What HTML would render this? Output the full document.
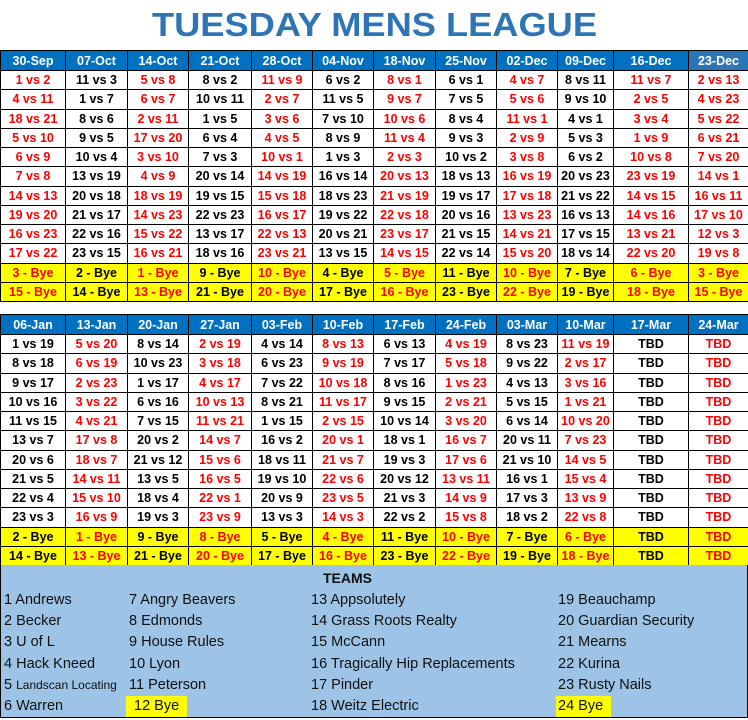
<!DOCTYPE html>
<html><head><meta charset="utf-8"><style>
body{margin:0;width:748px;height:720px;background:#fff;position:relative;overflow:hidden;font-family:"Liberation Sans",Arial,sans-serif}
table{position:absolute;left:0;width:748px;border-collapse:collapse;table-layout:fixed}
td{border:1px solid #000;text-align:center;font-weight:bold;font-size:12.5px;padding:0;height:18.25px;line-height:16px;white-space:nowrap;overflow:hidden}
tr.h td{background:#0070c0;color:#fff;height:19px;border-color:#000}
tr.h td.l{background:#2e75b6}
tr.y td{background:#ffff00}
td.r{color:#f00}
td.k{color:#000}
.w{background:#fff!important}
#teams{position:absolute;left:0;top:565px;width:746px;height:152px;background:#9dc3e6;border:1px solid #000;border-top:none}
#teams div{position:absolute;font-size:14.5px;color:#111;white-space:nowrap}
</style></head><body>
<svg style="position:absolute;left:0;top:0" width="748" height="48"><text x="152" y="36" textLength="445" lengthAdjust="spacingAndGlyphs" font-family="Liberation Sans" font-weight="bold" font-size="33" fill="#2e75b6">TUESDAY MENS LEAGUE</text></svg>
<table style="top:50px">
<colgroup><col style="width:65px"><col style="width:62px"><col style="width:61px"><col style="width:63px"><col style="width:61px"><col style="width:61px"><col style="width:62px"><col style="width:61px"><col style="width:61px"><col style="width:56px"><col style="width:75px"><col style="width:60px"></colgroup>
<tr class="h"><td>30-Sep</td><td>07-Oct</td><td>14-Oct</td><td>21-Oct</td><td>28-Oct</td><td>04-Nov</td><td>18-Nov</td><td>25-Nov</td><td>02-Dec</td><td>09-Dec</td><td>16-Dec</td><td class="l">23-Dec</td></tr>
<tr><td class="r">1 vs 2</td><td>11 vs 3</td><td class="r">5 vs 8</td><td>8 vs 2</td><td class="r">11 vs 9</td><td>6 vs 2</td><td class="r">8 vs 1</td><td>6 vs 1</td><td class="r">4 vs 7</td><td>8 vs 11</td><td class="r">11 vs 7</td><td class="r">2 vs 13</td></tr>
<tr><td class="r">4 vs 11</td><td>1 vs 7</td><td class="r">6 vs 7</td><td>10 vs 11</td><td class="r">2 vs 7</td><td>11 vs 5</td><td class="r">9 vs 7</td><td>7 vs 5</td><td class="r">5 vs 6</td><td>9 vs 10</td><td class="r">2 vs 5</td><td class="r">4 vs 23</td></tr>
<tr><td class="r">18 vs 21</td><td>8 vs 6</td><td class="r">2 vs 11</td><td>1 vs 5</td><td class="r">3 vs 6</td><td>7 vs 10</td><td class="r">10 vs 6</td><td>8 vs 4</td><td class="r">11 vs 1</td><td>4 vs 1</td><td class="r">3 vs 4</td><td class="r">5 vs 22</td></tr>
<tr><td class="r">5 vs 10</td><td>9 vs 5</td><td class="r">17 vs 20</td><td>6 vs 4</td><td class="r">4 vs 5</td><td>8 vs 9</td><td class="r">11 vs 4</td><td>9 vs 3</td><td class="r">2 vs 9</td><td>5 vs 3</td><td class="r">1 vs 9</td><td class="r">6 vs 21</td></tr>
<tr><td class="r">6 vs 9</td><td>10 vs 4</td><td class="r">3 vs 10</td><td>7 vs 3</td><td class="r">10 vs 1</td><td>1 vs 3</td><td class="r">2 vs 3</td><td>10 vs 2</td><td class="r">3 vs 8</td><td>6 vs 2</td><td class="r">10 vs 8</td><td class="r">7 vs 20</td></tr>
<tr><td class="r">7 vs 8</td><td>13 vs 19</td><td class="r">4 vs 9</td><td>20 vs 14</td><td class="r">14 vs 19</td><td>16 vs 14</td><td class="r">20 vs 13</td><td>18 vs 13</td><td class="r">16 vs 19</td><td>20 vs 23</td><td class="r">23 vs 19</td><td class="r">14 vs 1</td></tr>
<tr><td class="r">14 vs 13</td><td>20 vs 18</td><td class="r">18 vs 19</td><td>19 vs 15</td><td class="r">15 vs 18</td><td>18 vs 23</td><td class="r">21 vs 19</td><td>19 vs 17</td><td class="r">17 vs 18</td><td>21 vs 22</td><td class="r">14 vs 15</td><td class="r">16 vs 11</td></tr>
<tr><td class="r">19 vs 20</td><td>21 vs 17</td><td class="r">14 vs 23</td><td>22 vs 23</td><td class="r">16 vs 17</td><td>19 vs 22</td><td class="r">22 vs 18</td><td>20 vs 16</td><td class="r">13 vs 23</td><td>16 vs 13</td><td class="r">14 vs 16</td><td class="r">17 vs 10</td></tr>
<tr><td class="r">16 vs 23</td><td>22 vs 16</td><td class="r">15 vs 22</td><td>13 vs 17</td><td class="r">22 vs 13</td><td>20 vs 21</td><td class="r">23 vs 17</td><td>21 vs 15</td><td class="r">14 vs 21</td><td>17 vs 15</td><td class="r">13 vs 21</td><td class="r">12 vs 3</td></tr>
<tr><td class="r">17 vs 22</td><td>23 vs 15</td><td class="r">16 vs 21</td><td>18 vs 16</td><td class="r">23 vs 21</td><td>13 vs 15</td><td class="r">14 vs 15</td><td>22 vs 14</td><td class="r">15 vs 20</td><td>18 vs 14</td><td class="r">22 vs 20</td><td class="r">19 vs 8</td></tr>
<tr class="y"><td class="r">3 - Bye</td><td>2 - Bye</td><td class="r">1 - Bye</td><td>9 - Bye</td><td class="r">10 - Bye</td><td>4 - Bye</td><td class="r">5 - Bye</td><td>11 - Bye</td><td class="r">10 - Bye</td><td>7 - Bye</td><td class="r">6 - Bye</td><td class="r">3 - Bye</td></tr>
<tr class="y"><td class="r">15 - Bye</td><td>14 - Bye</td><td class="r">13 - Bye</td><td>21 - Bye</td><td class="r">20 - Bye</td><td>17 - Bye</td><td class="r">16 - Bye</td><td>23 - Bye</td><td class="r">22 - Bye</td><td>19 - Bye</td><td class="r">18 - Bye</td><td class="r">15 - Bye</td></tr>
</table>
<table style="top:314px">
<colgroup><col style="width:65px"><col style="width:62px"><col style="width:61px"><col style="width:63px"><col style="width:61px"><col style="width:61px"><col style="width:62px"><col style="width:61px"><col style="width:61px"><col style="width:56px"><col style="width:75px"><col style="width:60px"></colgroup>
<tr class="h"><td>06-Jan</td><td>13-Jan</td><td>20-Jan</td><td>27-Jan</td><td>03-Feb</td><td>10-Feb</td><td>17-Feb</td><td>24-Feb</td><td>03-Mar</td><td>10-Mar</td><td>17-Mar</td><td>24-Mar</td></tr>
<tr><td>1 vs 19</td><td class="r">5 vs 20</td><td>8 vs 14</td><td class="r">2 vs 19</td><td>4 vs 14</td><td class="r">8 vs 13</td><td>6 vs 13</td><td class="r">4 vs 19</td><td>8 vs 23</td><td class="r">11 vs 19</td><td>TBD</td><td class="r">TBD</td></tr>
<tr><td>8 vs 18</td><td class="r">6 vs 19</td><td>10 vs 23</td><td class="r">3 vs 18</td><td>6 vs 23</td><td class="r">9 vs 19</td><td>7 vs 17</td><td class="r">5 vs 18</td><td>9 vs 22</td><td class="r">2 vs 17</td><td>TBD</td><td class="r">TBD</td></tr>
<tr><td>9 vs 17</td><td class="r">2 vs 23</td><td>1 vs 17</td><td class="r">4 vs 17</td><td>7 vs 22</td><td class="r">10 vs 18</td><td>8 vs 16</td><td class="r">1 vs 23</td><td>4 vs 13</td><td class="r">3 vs 16</td><td>TBD</td><td class="r">TBD</td></tr>
<tr><td>10 vs 16</td><td class="r">3 vs 22</td><td>6 vs 16</td><td class="r">10 vs 13</td><td>8 vs 21</td><td class="r">11 vs 17</td><td>9 vs 15</td><td class="r">2 vs 21</td><td>5 vs 15</td><td class="r">1 vs 21</td><td>TBD</td><td class="r">TBD</td></tr>
<tr><td>11 vs 15</td><td class="r">4 vs 21</td><td>7 vs 15</td><td class="r">11 vs 21</td><td>1 vs 15</td><td class="r">2 vs 15</td><td>10 vs 14</td><td class="r">3 vs 20</td><td>6 vs 14</td><td class="r">10 vs 20</td><td>TBD</td><td class="r">TBD</td></tr>
<tr><td>13 vs 7</td><td class="r">17 vs 8</td><td>20 vs 2</td><td class="r">14 vs 7</td><td>16 vs 2</td><td class="r">20 vs 1</td><td>18 vs 1</td><td class="r">16 vs 7</td><td>20 vs 11</td><td class="r">7 vs 23</td><td>TBD</td><td class="r">TBD</td></tr>
<tr><td>20 vs 6</td><td class="r">18 vs 7</td><td>21 vs 12</td><td class="r">15 vs 6</td><td>18 vs 11</td><td class="r">21 vs 7</td><td>19 vs 3</td><td class="r">17 vs 6</td><td>21 vs 10</td><td class="r">14 vs 5</td><td>TBD</td><td class="r">TBD</td></tr>
<tr><td>21 vs 5</td><td class="r">14 vs 11</td><td>13 vs 5</td><td class="r">16 vs 5</td><td>19 vs 10</td><td class="r">22 vs 6</td><td>20 vs 12</td><td class="r">13 vs 11</td><td>16 vs 1</td><td class="r">15 vs 4</td><td>TBD</td><td class="r">TBD</td></tr>
<tr><td>22 vs 4</td><td class="r">15 vs 10</td><td>18 vs 4</td><td class="r">22 vs 1</td><td>20 vs 9</td><td class="r">23 vs 5</td><td>21 vs 3</td><td class="r">14 vs 9</td><td>17 vs 3</td><td class="r">13 vs 9</td><td>TBD</td><td class="r">TBD</td></tr>
<tr><td>23 vs 3</td><td class="r">16 vs 9</td><td>19 vs 3</td><td class="r">23 vs 9</td><td>13 vs 3</td><td class="r">14 vs 3</td><td>22 vs 2</td><td class="r">15 vs 8</td><td>18 vs 2</td><td class="r">22 vs 8</td><td>TBD</td><td class="r">TBD</td></tr>
<tr class="y"><td>2 - Bye</td><td class="r">1 - Bye</td><td>9 - Bye</td><td class="r">8 - Bye</td><td>5 - Bye</td><td class="r">4 - Bye</td><td>11 - Bye</td><td class="r">10 - Bye</td><td>7 - Bye</td><td class="r">6 - Bye</td><td>TBD</td><td class="r">TBD</td></tr>
<tr class="y"><td>14 - Bye</td><td class="r">13 - Bye</td><td>21 - Bye</td><td class="r">20 - Bye</td><td>17 - Bye</td><td class="r">16 - Bye</td><td>23 - Bye</td><td class="r">22 - Bye</td><td>19 - Bye</td><td class="r">18 - Bye</td><td>TBD</td><td class="r">TBD</td></tr>
</table>
<div id="teams">
<div style="left:322px;top:5px;font-weight:bold;font-size:14px">TEAMS</div>
<div style="left:3px;top:27px">1 Andrews</div>
<div style="left:3px;top:48px">2 Becker</div>
<div style="left:3px;top:69px">3 U of L</div>
<div style="left:3px;top:91px">4 Hack Kneed</div>
<div style="left:3px;top:112px">5 <span style="font-size:12px">Landscan Locating</span></div>
<div style="left:3px;top:133px">6 Warren</div>
<div style="left:128px;top:27px">7 Angry Beavers</div>
<div style="left:128px;top:48px">8 Edmonds</div>
<div style="left:128px;top:69px">9 House Rules</div>
<div style="left:128px;top:91px">10 Lyon</div>
<div style="left:128px;top:112px">11 Peterson</div>
<div style="left:125px;top:131px;width:61px;height:21px;background:#ff0"></div>
<div style="left:133px;top:133px">12 Bye</div>
<div style="left:310px;top:27px">13 Appsolutely</div>
<div style="left:310px;top:48px">14 Grass Roots Realty</div>
<div style="left:310px;top:69px">15 McCann</div>
<div style="left:310px;top:91px">16 Tragically Hip Replacements</div>
<div style="left:310px;top:112px">17 Pinder</div>
<div style="left:310px;top:133px">18 Weitz Electric</div>
<div style="left:557px;top:27px">19 Beauchamp</div>
<div style="left:557px;top:48px">20 Guardian Security</div>
<div style="left:557px;top:69px">21 Mearns</div>
<div style="left:557px;top:91px">22 Kurina</div>
<div style="left:557px;top:112px">23 Rusty Nails</div>
<div style="left:555px;top:131px;width:55px;height:21px;background:#ff0"></div>
<div style="left:557px;top:133px">24 Bye</div>
</div>
</body></html>
